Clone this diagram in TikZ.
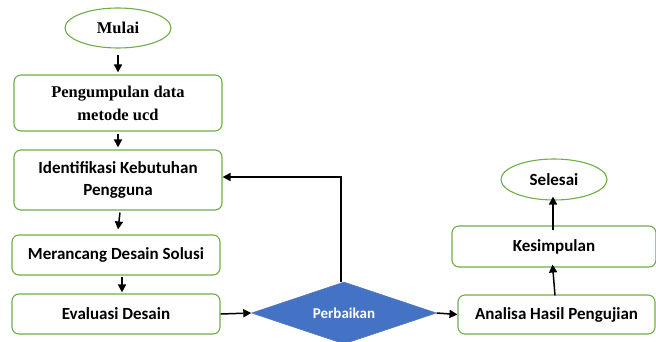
\documentclass[tikz,border=0pt]{standalone}
\usepackage{fontspec}
\setmainfont{Carlito}
\newfontfamily\tnr{Liberation Serif}
\usetikzlibrary{shapes.geometric,arrows.meta}
\definecolor{offgreen}{RGB}{112,173,71}
\definecolor{offblue}{RGB}{68,114,196}
\tikzset{
  box/.style={draw=offgreen,line width=1.1pt,rounded corners=7pt,fill=white,inner sep=0pt,align=center},
  oval/.style={draw=offgreen,line width=1.1pt,ellipse,inner sep=0pt,fill=white},
  cal/.style={font=\fontsize{17}{22}\selectfont\bfseries},
  ser/.style={font=\tnr\fontsize{16.5}{23}\selectfont\bfseries},
  arr/.style={-{Triangle[length=8pt,width=8pt]},line width=1.5pt,black}}
\begin{document}
\begin{tikzpicture}[x=1pt,y=-1pt]
\useasboundingbox (0,0) rectangle (656,342);
\node[oval,ser,minimum width=106pt,minimum height=40pt] (mulai) at (118,28) {Mulai};
\node[box,ser,minimum width=208pt,minimum height=56pt] (peng) at (118,103) {Pengumpulan data\\metode ucd};
\node[box,cal,minimum width=208pt,minimum height=60pt] (ident) at (118,180) {Identifikasi Kebutuhan\\Pengguna};
\node[box,cal,minimum width=208pt,minimum height=40pt] (meran) at (116,255) {Merancang Desain Solusi};
\node[box,cal,minimum width=208pt,minimum height=40pt] (eval) at (116,314) {Evaluasi Desain};
\node[diamond,draw=offblue,fill=offblue,aspect=2.98,minimum width=185pt,minimum height=62pt,inner sep=0pt,text=white,font=\fontsize{15}{18}\selectfont\bfseries] (perb) at (344,313) {Perbaikan};
\node[box,cal,minimum width=197pt,minimum height=39pt] (anal) at (556.5,314.5) {Analisa Hasil Pengujian};
\node[box,cal,minimum width=204pt,minimum height=41pt] (kesim) at (554,246.5) {Kesimpulan};
\node[oval,cal,minimum width=106pt,minimum height=41pt] (seles) at (554,179.5) {Selesai};
\coordinate (c1) at (341,177);
\draw[arr] ([yshift=-6pt]mulai.south) -- ([yshift=2pt]peng.north);
\draw[arr] ([yshift=-2pt]peng.south) -- ([yshift=2pt]ident.north);
\draw[arr] ([xshift=2pt,yshift=-2pt]ident.south) -- ([xshift=2pt,yshift=5pt]meran.north);
\draw[arr] ([xshift=6pt,yshift=-1pt]meran.south) -- ([xshift=6pt,yshift=1pt]eval.north);
\draw[arr] (eval.east) -- (perb.west);
\draw[arr] (perb.east) -- (anal.west);
\draw[arr] (perb.north -| c1) -- (c1) -- (ident.east |- c1);
\draw[arr] ([xshift=-1.5pt,yshift=-1pt]anal.north) -- ([xshift=-1.5pt,yshift=3pt]kesim.south);
\draw[arr] ([xshift=-1pt,yshift=-5pt]kesim.north) -- ([xshift=-1pt,yshift=4pt]seles.south);
\end{tikzpicture}
\end{document}
